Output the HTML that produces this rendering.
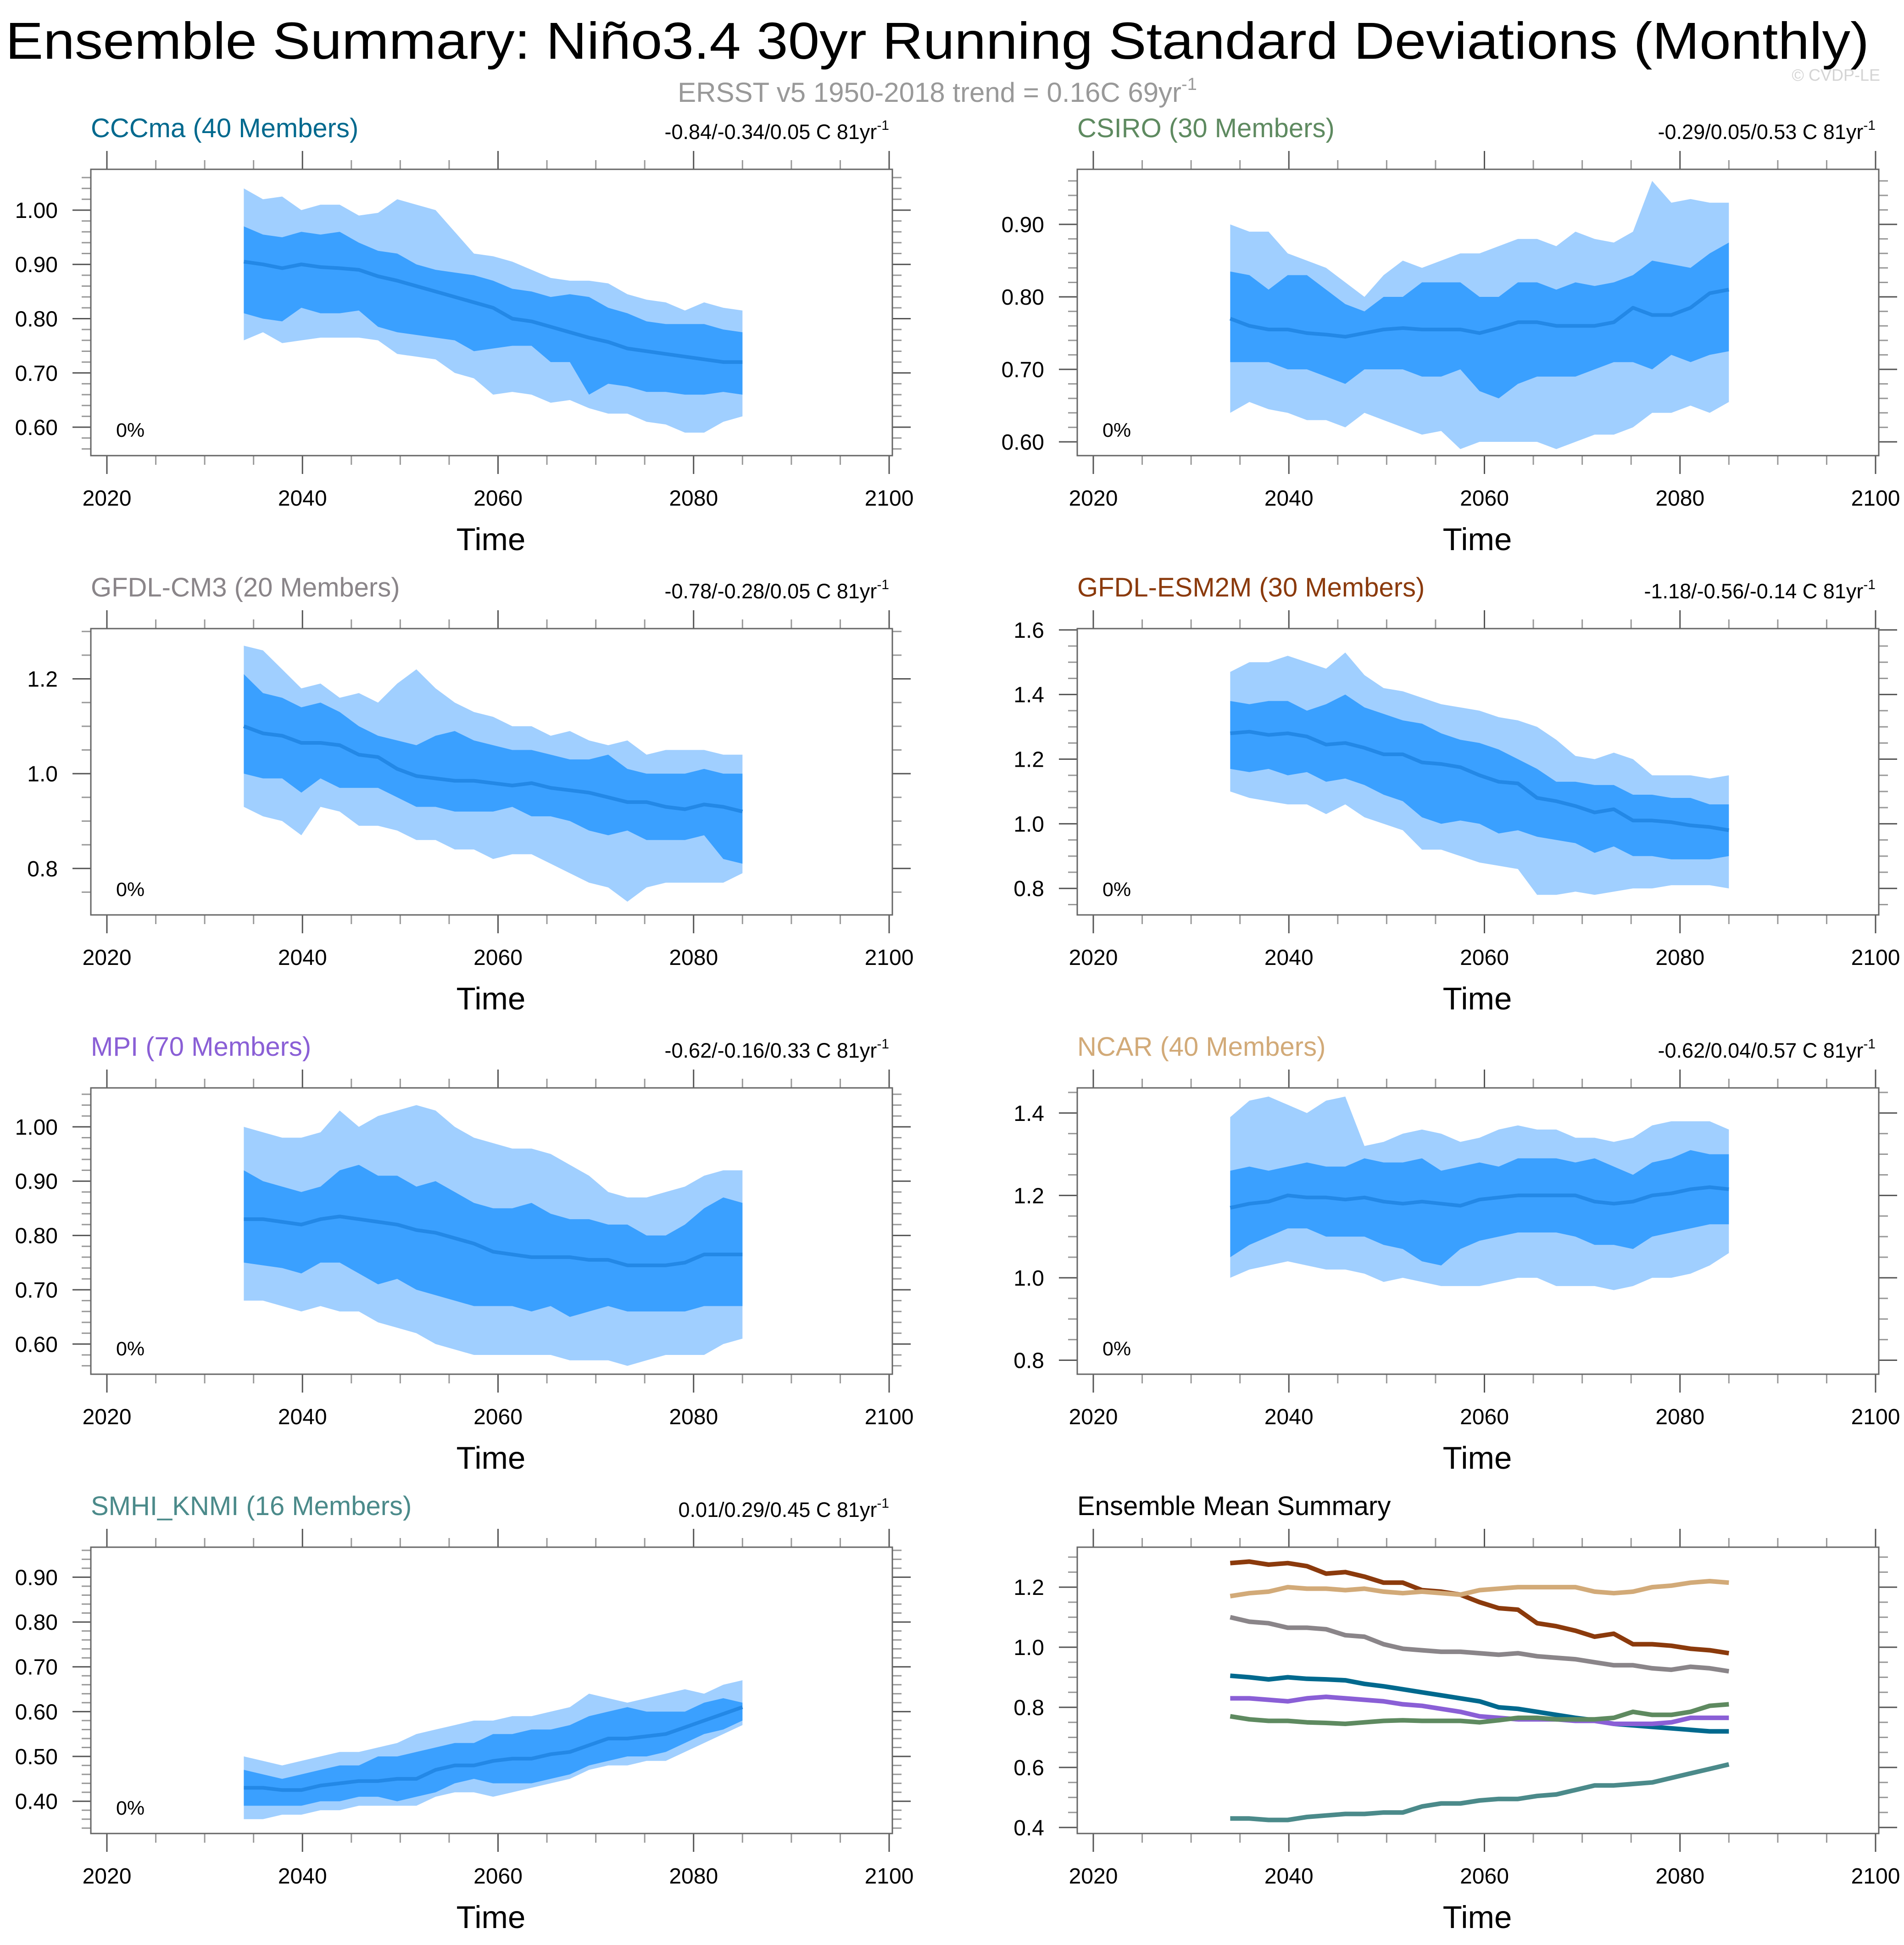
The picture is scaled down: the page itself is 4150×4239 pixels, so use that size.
<!DOCTYPE html>
<html><head><meta charset="utf-8">
<style>
html,body{margin:0;padding:0;background:#fff;}
svg{display:block;font-family:"Liberation Sans",Arial,sans-serif;}
</style></head>
<body>
<svg id="chart" width="4150" height="4239" viewBox="0 0 4150 4239" xmlns="http://www.w3.org/2000/svg">
<rect width="4150" height="4239" fill="#fff"/>
<text x="12" y="128" font-size="113" textLength="4062" lengthAdjust="spacingAndGlyphs" fill="#000">Ensemble Summary: Niño3.4 30yr Running Standard Deviations (Monthly)</text>
<text x="2043" y="222" font-size="60" text-anchor="middle" fill="#999">ERSST v5 1950-2018 trend = 0.16C 69yr<tspan font-size="38" dy="-26">-1</tspan></text>
<text x="4098" y="176" font-size="36" text-anchor="end" fill="#d4d4d4">© CVDP-LE</text>
</svg>
<script>
// ---- data (every 2 years 2034..2084, plus 2085) ----
const panelNames = ["CCCma (40 Members)","CSIRO (30 Members)","GFDL-CM3 (20 Members)","GFDL-ESM2M (30 Members)","MPI (70 Members)","NCAR (40 Members)","SMHI_KNMI (16 Members)"];
const trendLabels = ["-0.84/-0.34/0.05 C 81yr","-0.29/0.05/0.53 C 81yr","-0.78/-0.28/0.05 C 81yr","-1.18/-0.56/-0.14 C 81yr","-0.62/-0.16/0.33 C 81yr","-0.62/0.04/0.57 C 81yr","0.01/0.29/0.45 C 81yr"];
const startYear = 2034, endYear = 2085;

const cccmaMean = [0.905,0.90,0.893,0.90,0.895,0.893,0.89,0.878,0.87,0.86,0.85,0.84,0.83,0.82,0.80,0.795,0.785,0.775,0.765,0.757,0.745,0.74,0.735,0.73,0.725,0.72,0.72];
const cccmaHi1 = [0.97,0.955,0.95,0.96,0.955,0.96,0.94,0.925,0.92,0.90,0.89,0.885,0.88,0.87,0.855,0.85,0.84,0.845,0.84,0.82,0.81,0.795,0.79,0.79,0.79,0.78,0.775];
const cccmaLo1 = [0.81,0.80,0.795,0.82,0.81,0.81,0.815,0.785,0.775,0.77,0.765,0.76,0.74,0.745,0.75,0.75,0.72,0.72,0.66,0.68,0.675,0.665,0.665,0.66,0.66,0.665,0.66];
const cccmaHi2 = [1.04,1.02,1.025,1.00,1.01,1.01,0.99,0.995,1.02,1.01,1.00,0.96,0.92,0.915,0.905,0.89,0.875,0.87,0.87,0.865,0.845,0.835,0.83,0.815,0.83,0.82,0.815];
const cccmaLo2 = [0.76,0.775,0.755,0.76,0.765,0.765,0.765,0.76,0.735,0.73,0.725,0.70,0.69,0.66,0.665,0.66,0.645,0.65,0.635,0.625,0.625,0.61,0.605,0.59,0.59,0.61,0.62];

const csiroMean = [0.77,0.76,0.755,0.755,0.75,0.748,0.745,0.75,0.755,0.757,0.755,0.755,0.755,0.75,0.757,0.765,0.765,0.76,0.76,0.76,0.765,0.785,0.775,0.775,0.785,0.805,0.81];
const csiroHi1 = [0.835,0.83,0.81,0.83,0.83,0.81,0.79,0.78,0.80,0.80,0.82,0.82,0.82,0.80,0.80,0.82,0.82,0.81,0.82,0.815,0.82,0.83,0.85,0.845,0.84,0.86,0.875];
const csiroLo1 = [0.71,0.71,0.71,0.70,0.70,0.69,0.68,0.70,0.70,0.70,0.69,0.69,0.70,0.67,0.66,0.68,0.69,0.69,0.69,0.70,0.71,0.71,0.70,0.72,0.71,0.72,0.725];
const csiroHi2 = [0.90,0.89,0.89,0.86,0.85,0.84,0.82,0.80,0.83,0.85,0.84,0.85,0.86,0.86,0.87,0.88,0.88,0.87,0.89,0.88,0.875,0.89,0.96,0.93,0.935,0.93,0.93];
const csiroLo2 = [0.64,0.655,0.645,0.64,0.63,0.63,0.62,0.64,0.63,0.62,0.61,0.615,0.59,0.60,0.60,0.60,0.60,0.59,0.60,0.61,0.61,0.62,0.64,0.64,0.65,0.64,0.655];

const cm3Mean = [1.10,1.085,1.08,1.065,1.065,1.06,1.04,1.035,1.01,0.995,0.99,0.985,0.985,0.98,0.975,0.98,0.97,0.965,0.96,0.95,0.94,0.94,0.93,0.925,0.935,0.93,0.92];
const cm3Hi1 = [1.21,1.17,1.16,1.14,1.15,1.13,1.10,1.08,1.07,1.06,1.08,1.09,1.07,1.06,1.05,1.05,1.04,1.03,1.03,1.04,1.01,1.00,1.00,1.00,1.01,1.00,1.00];
const cm3Lo1 = [1.00,0.99,0.99,0.96,0.99,0.97,0.97,0.97,0.95,0.93,0.93,0.92,0.92,0.92,0.93,0.91,0.91,0.90,0.88,0.87,0.88,0.86,0.86,0.86,0.87,0.82,0.81];
const cm3Hi2 = [1.27,1.26,1.22,1.18,1.19,1.16,1.17,1.15,1.19,1.22,1.18,1.15,1.13,1.12,1.10,1.10,1.08,1.09,1.07,1.06,1.07,1.04,1.05,1.05,1.05,1.04,1.04];
const cm3Lo2 = [0.93,0.91,0.90,0.87,0.93,0.92,0.89,0.89,0.88,0.86,0.86,0.84,0.84,0.82,0.83,0.83,0.81,0.79,0.77,0.76,0.73,0.76,0.77,0.77,0.77,0.77,0.79];

const esmMean = [1.28,1.285,1.275,1.28,1.27,1.245,1.25,1.235,1.215,1.215,1.19,1.185,1.175,1.15,1.13,1.125,1.08,1.07,1.055,1.035,1.045,1.01,1.01,1.005,0.995,0.99,0.98];
const esmHi1 = [1.38,1.37,1.38,1.38,1.35,1.37,1.40,1.36,1.34,1.32,1.31,1.28,1.26,1.25,1.23,1.20,1.17,1.13,1.13,1.12,1.12,1.09,1.09,1.08,1.08,1.06,1.06];
const esmLo1 = [1.17,1.16,1.17,1.15,1.16,1.13,1.14,1.12,1.09,1.07,1.02,1.00,1.01,1.00,0.97,0.98,0.96,0.95,0.94,0.91,0.93,0.90,0.90,0.89,0.89,0.89,0.90];
const esmHi2 = [1.47,1.50,1.50,1.52,1.50,1.48,1.53,1.46,1.42,1.41,1.39,1.37,1.36,1.35,1.33,1.32,1.30,1.26,1.21,1.20,1.22,1.20,1.15,1.15,1.15,1.14,1.15];
const esmLo2 = [1.10,1.08,1.07,1.06,1.06,1.03,1.06,1.02,1.00,0.98,0.92,0.92,0.90,0.88,0.87,0.86,0.78,0.78,0.79,0.78,0.79,0.80,0.80,0.81,0.81,0.81,0.80];

const mpiMean = [0.83,0.83,0.825,0.82,0.83,0.835,0.83,0.825,0.82,0.81,0.805,0.795,0.785,0.77,0.765,0.76,0.76,0.76,0.755,0.755,0.745,0.745,0.745,0.75,0.765,0.765,0.765];
const mpiHi1 = [0.92,0.90,0.89,0.88,0.89,0.92,0.93,0.91,0.91,0.89,0.90,0.88,0.86,0.85,0.85,0.86,0.84,0.83,0.83,0.82,0.82,0.80,0.80,0.82,0.85,0.87,0.86];
const mpiLo1 = [0.75,0.745,0.74,0.73,0.75,0.75,0.73,0.71,0.72,0.70,0.69,0.68,0.67,0.67,0.67,0.66,0.67,0.65,0.66,0.67,0.66,0.66,0.66,0.66,0.67,0.67,0.67];
const mpiHi2 = [1.00,0.99,0.98,0.98,0.99,1.03,1.00,1.02,1.03,1.04,1.03,1.00,0.98,0.97,0.96,0.96,0.95,0.93,0.91,0.88,0.87,0.87,0.88,0.89,0.91,0.92,0.92];
const mpiLo2 = [0.68,0.68,0.67,0.66,0.67,0.66,0.66,0.64,0.63,0.62,0.60,0.59,0.58,0.58,0.58,0.58,0.58,0.57,0.57,0.57,0.56,0.57,0.58,0.58,0.58,0.60,0.61];

const ncarMean = [1.17,1.18,1.185,1.20,1.195,1.195,1.19,1.195,1.185,1.18,1.185,1.18,1.175,1.19,1.195,1.20,1.20,1.20,1.20,1.185,1.18,1.185,1.20,1.205,1.215,1.22,1.215];
const ncarHi1 = [1.26,1.27,1.26,1.27,1.28,1.27,1.27,1.29,1.28,1.28,1.29,1.26,1.27,1.28,1.27,1.29,1.29,1.29,1.28,1.29,1.27,1.25,1.28,1.29,1.31,1.30,1.30];
const ncarLo1 = [1.05,1.08,1.10,1.12,1.12,1.10,1.10,1.10,1.08,1.07,1.04,1.03,1.07,1.09,1.10,1.11,1.11,1.11,1.10,1.08,1.08,1.07,1.10,1.11,1.12,1.13,1.13];
const ncarHi2 = [1.39,1.43,1.44,1.42,1.40,1.43,1.44,1.32,1.33,1.35,1.36,1.35,1.33,1.34,1.36,1.37,1.36,1.36,1.34,1.34,1.33,1.34,1.37,1.38,1.38,1.38,1.36];
const ncarLo2 = [1.00,1.02,1.03,1.04,1.03,1.02,1.02,1.01,0.99,1.00,0.99,0.98,0.98,0.98,0.99,1.00,1.00,0.98,0.98,0.98,0.97,0.98,1.00,1.00,1.01,1.03,1.06];

const smhiMean = [0.43,0.43,0.425,0.425,0.435,0.44,0.445,0.445,0.45,0.45,0.47,0.48,0.48,0.49,0.495,0.495,0.505,0.51,0.525,0.54,0.54,0.545,0.55,0.565,0.58,0.595,0.61];
const smhiHi1 = [0.47,0.46,0.45,0.46,0.47,0.48,0.48,0.50,0.50,0.51,0.52,0.53,0.53,0.55,0.55,0.56,0.56,0.57,0.59,0.60,0.61,0.60,0.60,0.60,0.62,0.63,0.62];
const smhiLo1 = [0.39,0.39,0.39,0.39,0.40,0.40,0.41,0.41,0.40,0.41,0.42,0.44,0.45,0.44,0.44,0.44,0.45,0.46,0.48,0.49,0.50,0.50,0.51,0.53,0.55,0.56,0.58];
const smhiHi2 = [0.50,0.49,0.48,0.49,0.50,0.51,0.51,0.52,0.53,0.55,0.56,0.57,0.58,0.58,0.59,0.59,0.60,0.61,0.64,0.63,0.62,0.63,0.64,0.65,0.64,0.66,0.67];
const smhiLo2 = [0.36,0.36,0.37,0.37,0.38,0.38,0.39,0.39,0.39,0.39,0.41,0.42,0.42,0.41,0.42,0.43,0.44,0.45,0.47,0.48,0.48,0.49,0.49,0.51,0.53,0.55,0.57];

const xTicks = [2020,2040,2060,2080,2100];
const titleColors = ["#00698e","#5e8a60","#8a8589","#8b3a0c","#8a5fd6","#d2aa78","#4b8a8a"];

// ---- layout ----
const svg = document.getElementById('chart');
const NS = 'http://www.w3.org/2000/svg';
const colX = [198, 2348], rowY0 = 369, rowStep = 1001, boxW = 1747, boxH = 624;
function mk(tag, attrs, parent){ const e=document.createElementNS(NS,tag); for(const k in attrs) e.setAttribute(k,attrs[k]); (parent||svg).appendChild(e); return e; }

const panels = [
 {mean:cccmaMean,hi1:cccmaHi1,lo1:cccmaLo1,hi2:cccmaHi2,lo2:cccmaLo2,ymin:0.5476,ymax:1.0752,major:0.1,minor:0.02,dec:2},
 {mean:csiroMean,hi1:csiroHi1,lo1:csiroLo1,hi2:csiroHi2,lo2:csiroLo2,ymin:0.581,ymax:0.976,major:0.1,minor:0.02,dec:2},
 {mean:cm3Mean,hi1:cm3Hi1,lo1:cm3Lo1,hi2:cm3Hi2,lo2:cm3Lo2,ymin:0.702,ymax:1.306,major:0.2,minor:0.05,dec:1},
 {mean:esmMean,hi1:esmHi1,lo1:esmLo1,hi2:esmHi2,lo2:esmLo2,ymin:0.718,ymax:1.604,major:0.2,minor:0.05,dec:1},
 {mean:mpiMean,hi1:mpiHi1,lo1:mpiLo1,hi2:mpiHi2,lo2:mpiLo2,ymin:0.5445,ymax:1.0717,major:0.1,minor:0.02,dec:2},
 {mean:ncarMean,hi1:ncarHi1,lo1:ncarLo1,hi2:ncarHi2,lo2:ncarLo2,ymin:0.766,ymax:1.461,major:0.2,minor:0.05,dec:1},
 {mean:smhiMean,hi1:smhiHi1,lo1:smhiLo1,hi2:smhiHi2,lo2:smhiLo2,ymin:0.328,ymax:0.967,major:0.1,minor:0.02,dec:2}
];

function drawAxes(i, x0, y0, ymin, ymax, major, minor, dec){
  const xs = yr => x0 + 35 + (yr-2020)*1705/80;
  const ys = v => y0 + boxH - (v-ymin)/(ymax-ymin)*boxH;
  const g = mk('g',{});
  
  
  for(let yr=2020; yr<=2100; yr+=5){
    const isMaj = yr%20===0;
    const len = isMaj?40:20, col = isMaj?'#555':'#999';
    const x = xs(yr);
    mk('line',{x1:x,x2:x,y1:y0,y2:y0-len,stroke:col,'stroke-width':3},g);
    mk('line',{x1:x,x2:x,y1:y0+boxH,y2:y0+boxH+len,stroke:col,'stroke-width':3},g);
  }
  xTicks.forEach(yr=>{
    const t = mk('text',{x:xs(yr),y:y0+boxH+109,'font-size':48,'text-anchor':'middle',fill:'#000'},g);
    
    
    t.textContent = yr;
  });
  const n0 = Math.ceil(ymin/minor-1e-6), n1 = Math.floor(ymax/minor+1e-6);
  for(let n=n0;n<=n1;n++){
    const v = n*minor;
    const isMaj = Math.abs(v/major - Math.round(v/major))<1e-6;
    const len = isMaj?40:20, col = isMaj?'#555':'#999';
    const y = ys(v);
    mk('line',{x1:x0,x2:x0-len,y1:y,y2:y,stroke:col,'stroke-width':3},g);
    mk('line',{x1:x0+boxW,x2:x0+boxW+len,y1:y,y2:y,stroke:col,'stroke-width':3},g);
    if(isMaj){
      const t = mk('text',{x:x0-72,y:y+17,'font-size':48,'text-anchor':'end',fill:'#000'},g);
      
      
      t.textContent = v.toFixed(dec);
    }
  }
  const tt = mk('text',{x:x0+872,y:y0+boxH+206,'font-size':69,'text-anchor':'middle',fill:'#000'},g);
  
  
  tt.textContent = 'Time';
  return {xs, ys};
}

function drawBox(x0,y0){
  const r = mk('rect',{x:x0,y:y0,width:boxW,height:boxH,fill:'none',stroke:'#666','stroke-width':3});
  
  
}

function yearAt(i,n){ return startYear + (endYear-startYear)*i/(n-1); }

function bandPath(hi, lo, xs, ys){
  let d='';
  hi.forEach((v,i)=>{ d += (i?'L':'M') + xs(yearAt(i,hi.length)).toFixed(1)+','+ys(v).toFixed(1); });
  for(let i=lo.length-1;i>=0;i--){ d += 'L'+xs(yearAt(i,lo.length)).toFixed(1)+','+ys(lo[i]).toFixed(1); }
  return d+'Z';
}
function linePath(arr, xs, ys){
  let d='';
  arr.forEach((v,i)=>{ d += (i?'L':'M') + xs(yearAt(i,arr.length)).toFixed(1)+','+ys(v).toFixed(1); });
  return d;
}

panels.forEach((p,i)=>{
  const x0 = colX[i%2], y0 = rowY0 + rowStep*Math.floor(i/2);
  const {xs, ys} = drawAxes(i, x0, y0, p.ymin, p.ymax, p.major, p.minor, p.dec);
  const outer = mk('path',{d:bandPath(p.hi2,p.lo2,xs,ys),fill:'#a0cfff',stroke:'none'});
  
  
  const inner = mk('path',{d:bandPath(p.hi1,p.lo1,xs,ys),fill:'#3aa0ff',stroke:'none'});
  
  
  const ml = mk('path',{d:linePath(p.mean,xs,ys),fill:'none',stroke:'#2388e6','stroke-width':8,'stroke-linejoin':'round'});
  
  
  drawBox(x0,y0);
  const t = mk('text',{x:x0,y:y0-70,'font-size':58,fill:titleColors[i]});
  
  
  t.textContent = panelNames[i];
  const tr = mk('text',{x:x0+1740,y:y0-66,'font-size':45,'text-anchor':'end',fill:'#000'});
  
  
  tr.textContent = trendLabels[i];
  const sup = mk('tspan',{'font-size':30,dy:-20},tr);
  sup.textContent = '-1';
  const pc = mk('text',{x:x0+55,y:y0+583,'font-size':43,fill:'#000'});
  
  
  pc.textContent = '0%';
});

(function(){
  const x0 = colX[1], y0 = rowY0 + rowStep*3;
  const {xs, ys} = drawAxes(7, x0, y0, 0.380, 1.333, 0.2, 0.05, 1);
  const order = [3,5,2,0,4,1,6];
  order.forEach(i=>{
    const l = mk('path',{d:linePath(panels[i].mean,xs,ys),fill:'none',stroke:titleColors[i],'stroke-width':10,'stroke-linejoin':'round'});
    
    
  });
  drawBox(x0,y0);
  const t = mk('text',{x:x0,y:y0-70,'font-size':58,fill:'#000'});
  
  
  t.textContent = 'Ensemble Mean Summary';
})();
</script>
</body></html>
